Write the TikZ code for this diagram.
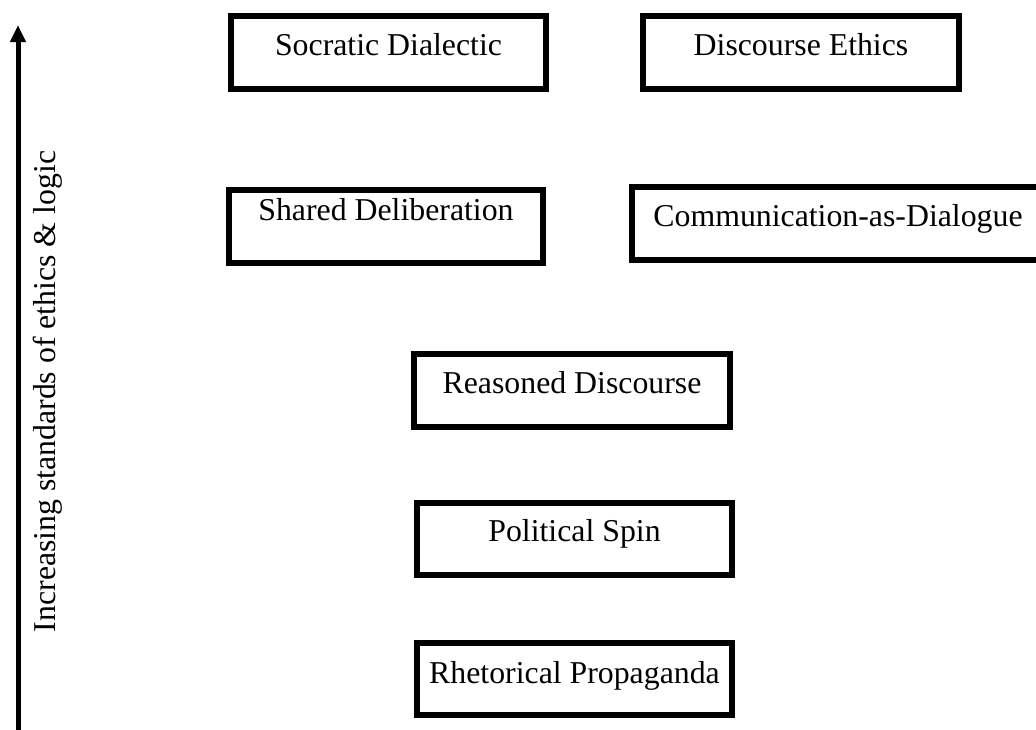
\documentclass[tikz,border=0pt]{standalone}
\usepackage{fontspec}
\setmainfont{Liberation Serif}
\usetikzlibrary{arrows.meta}
\begin{document}
\begin{tikzpicture}[x=1pt,y=-1pt,
  stagebox/.style={draw=black,line width=6pt,inner sep=0pt,anchor=north west,
    font=\fontsize{31.8}{38}\selectfont,align=center},
  axislabel/.style={font=\fontsize{31.8}{38}\selectfont,rotate=90,anchor=base,inner sep=0pt}]
\useasboundingbox (0,0) rectangle (1036,729);
\clip (0,0) rectangle (1036,729);
% boxes: (left,top) of stroke centreline, width, text height, text depth
\node[stagebox,minimum width=315pt,text height=39pt,text depth=34pt] (socratic) at (228,13) {Socratic Dialectic};
\node[stagebox,minimum width=316pt,text height=39pt,text depth=34pt] (discourse) at (640,13) {Discourse Ethics};
\node[stagebox,minimum width=314pt,text height=30pt,text depth=43pt] (shared) at (226,187) {Shared Deliberation};
\node[stagebox,minimum width=412pt,text height=39pt,text depth=34pt] (dialogue) at (629,184) {Communication-as-Dialogue};
\node[stagebox,minimum width=316pt,text height=39pt,text depth=34pt] (reasoned) at (411,351) {Reasoned Discourse};
\node[stagebox,minimum width=315pt,text height=38pt,text depth=34pt] (spin) at (414,500) {Political Spin};
\node[stagebox,minimum width=315pt,text height=40pt,text depth=32pt] (propaganda) at (414,640) {Rhetorical Propaganda};
% axis
\coordinate (axisbottom) at (18,735);
\coordinate (axistop) at (18,25);
\draw[line width=5pt,-{Triangle[width=15pt,length=17pt]}] (axisbottom) -- (axistop);
\node[axislabel] (axislbl) at (55,391.5) {Increasing standards of ethics \& logic};
\end{tikzpicture}
\end{document}
